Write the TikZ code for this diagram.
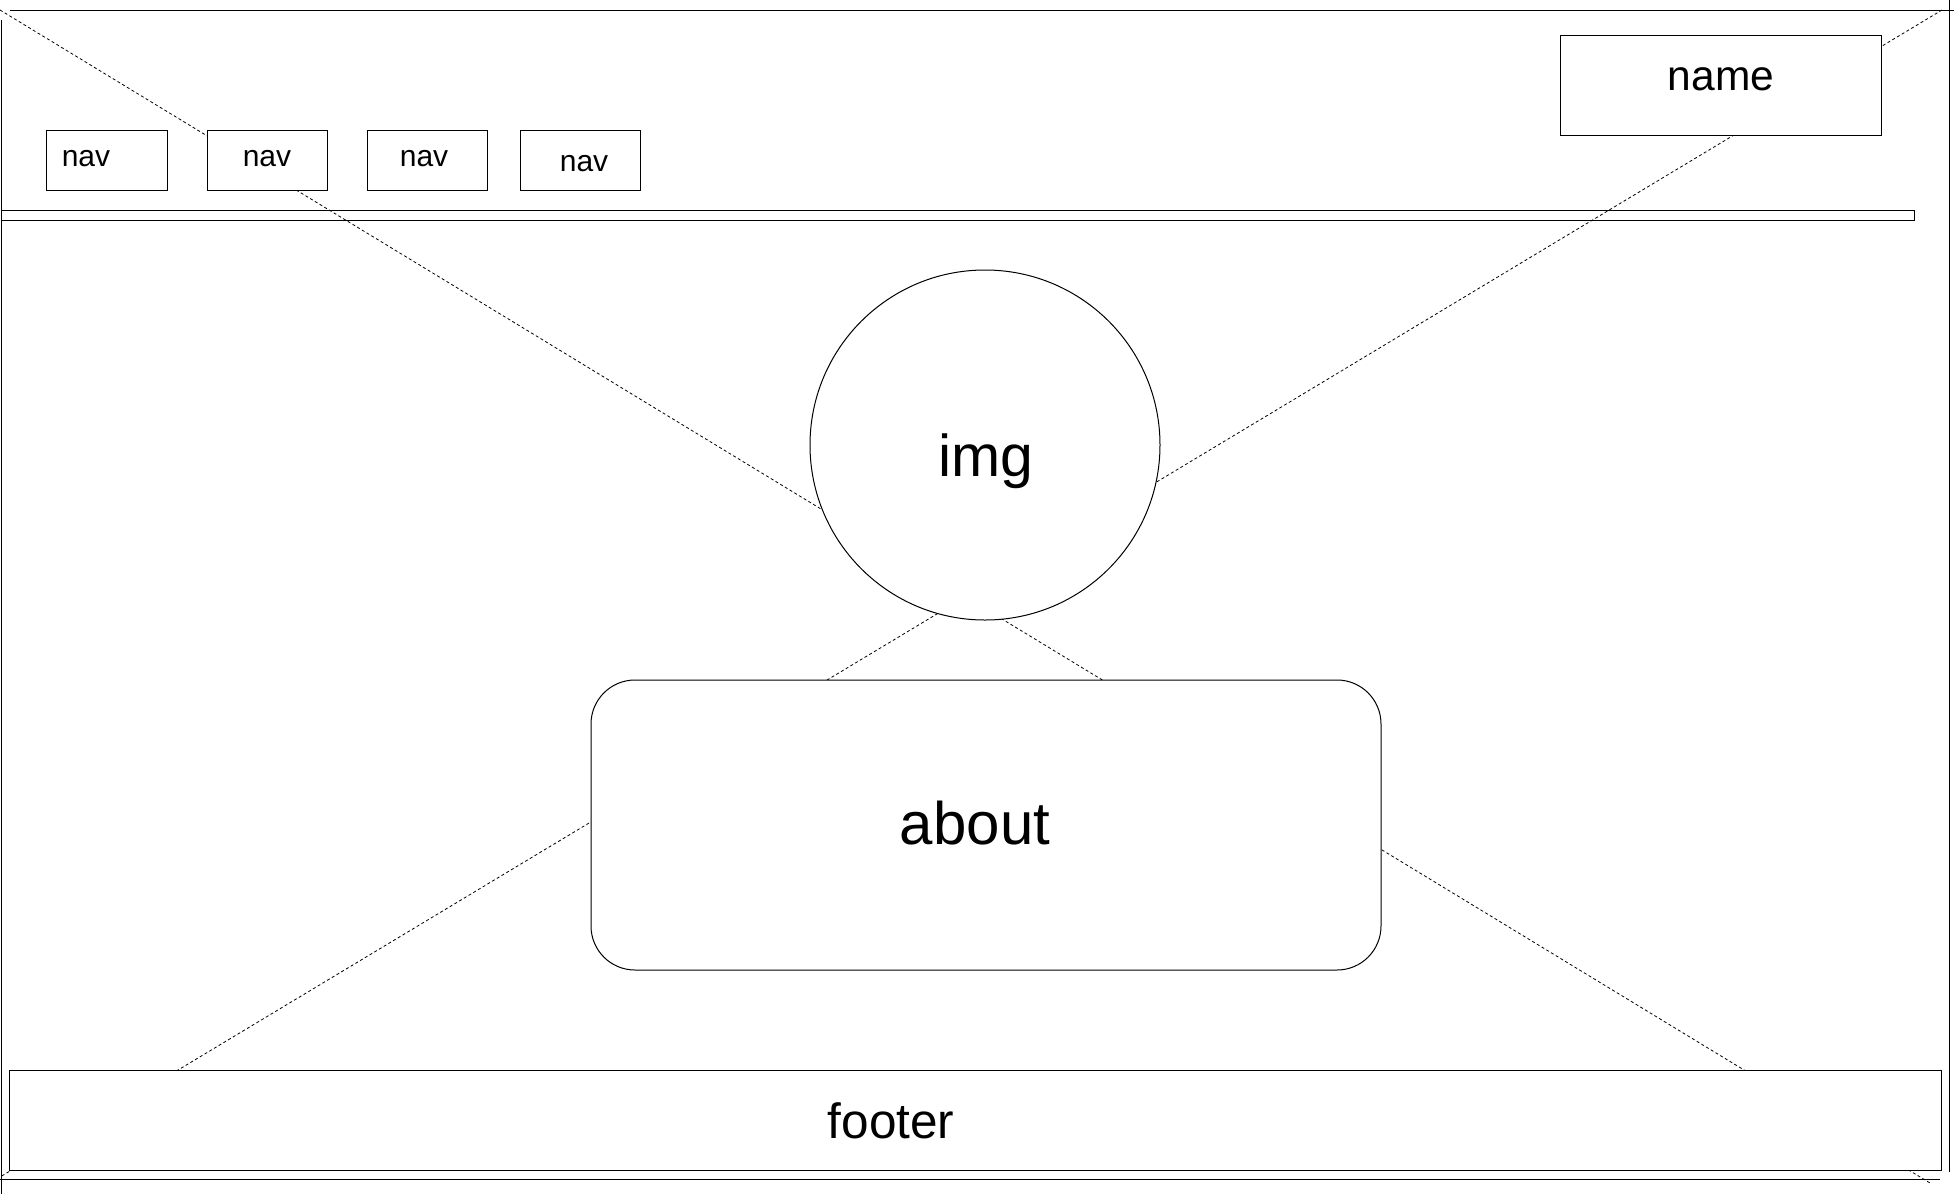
\documentclass[tikz,border=0pt]{standalone}
\usepackage{fontspec}
\setmainfont{Liberation Sans}
\begin{document}
\begin{tikzpicture}[x=1bp,y=-1bp,
  frameline/.style={line width=1bp,black},
  guide/.style={line width=0.8bp,black,dash pattern=on 3bp off 2.5bp},
  box/.style={draw,line width=1bp,fill=white,rectangle,inner sep=0pt},
  label/.style={anchor=base,inner sep=0pt,font=#1},
]
\useasboundingbox (0,0) rectangle (1954,1194);
% page diagonals (behind everything)
\coordinate (dA1) at (0,10);
\coordinate (dA2) at (1930,1183);
\coordinate (dB1) at (1942,10);
\coordinate (dB2) at (0,1177);
\draw[guide] (dA1) -- (dA2);
\draw[guide] (dB1) -- (dB2);
% outer page frame
\draw[frameline] (10,10) -- (1954,10);
\draw[frameline] (1,20) -- (1,1194);
\draw[frameline] (1949,0) -- (1949,1172);
\draw[frameline] (0,1179) -- (1940,1179);
% header separator bar
\draw[frameline] (1,210) rectangle (1914,220);
% navigation boxes
\node[box,minimum width=120bp,minimum height=60bp] (nav1) at (107,160) {};
\node[box,minimum width=120bp,minimum height=60bp] (nav2) at (267,160) {};
\node[box,minimum width=120bp,minimum height=60bp] (nav3) at (427,160) {};
\node[box,minimum width=120bp,minimum height=60bp] (nav4) at (580,160) {};
\node[label={\fontsize{30bp}{36bp}\selectfont}] (navt1) at (86,166) {nav};
\node[label={\fontsize{30bp}{36bp}\selectfont}] (navt2) at (267,166) {nav};
\node[label={\fontsize{30bp}{36bp}\selectfont}] (navt3) at (424,166) {nav};
\node[label={\fontsize{30bp}{36bp}\selectfont}] (navt4) at (584,171) {nav};
% site name
\node[box,minimum width=321bp,minimum height=100bp] (name) at (1720.5,85) {};
\node[label={\fontsize{42.5bp}{51bp}\selectfont}] (namet) at (1721,90) {name};
% profile picture
\node[draw,circle,line width=1bp,fill=white,minimum size=350bp,inner sep=0pt] (img) at (985,445) {};
\node[label={\fontsize{59bp}{71bp}\selectfont}] (imgt) at (986,476) {img};
% about section
\node[box,rounded corners=44bp,minimum width=790bp,minimum height=290bp] (about) at (986,825) {};
\node[label={\fontsize{60bp}{72bp}\selectfont}] (aboutt) at (975,844) {about};
% footer
\node[box,minimum width=1931bp,minimum height=100bp] (footer) at (975.5,1120) {};
\node[label={\fontsize{49.5bp}{60bp}\selectfont}] (footert) at (891,1138) {footer};
\end{tikzpicture}
\end{document}
